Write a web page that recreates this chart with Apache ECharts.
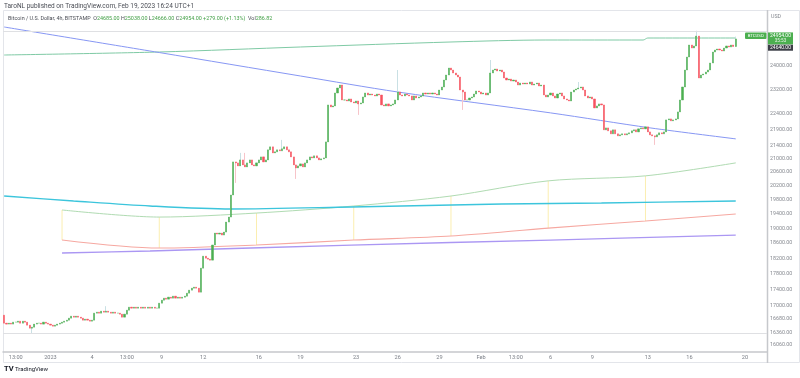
<!DOCTYPE html>
<html>
<head>
<meta charset="utf-8">
<script src="https://cdn.jsdelivr.net/npm/echarts@6.0.0/dist/echarts.min.js"></script>
<style>
  html, body { margin: 0; padding: 0; background: #fff; }
  #chart { width: 800px; height: 378px; }
</style>
</head>
<body>
<div id="chart"></div>
<script>
// 4h candles, first candle Dec 28 2022 17:00 (UTC+1)
const firstOpen = 16767;
const closes = [
  16575,16552,16575,16552,16599, 16599,16623,16575,16623,16599,
  16528,16456,16480,16552,16575, 16575,16552,16599,16575,16552,
  16528,16504,16528,16552,16575, 16599,16623,16647,16695,16743,
  16719,16743,16719,16695,16647, 16671,16647,16623,16647,16816,
  16840,16816,16864,16840,16864, 16840,16816,16840,16816,16816,
  16791,16719,16791,16888,16961, 16937,16961,16937,16961,16937,
  16961,16937,16961,16937,16961, 16937,16937,17059,17133,17183,
  17158,17207,17183,17232,17183, 17207,17183,17207,17232,17307,
  17382,17432,17457,17432,17332, 17941,18253,18201,18175,18149,
  18548,18870,18843,18870,18816, 18897,19171,19310,19933,20906,
  20876,20786,20966,20816,20756, 20876,20966,20816,20786,20876,
  20966,21057,20906,20966,21271, 21363,21179,21210,21271,21241,
  21302,21363,21271,21210,21057, 20816,20726,20786,20846,20756,
  20876,20966,21057,21027,21088, 21027,20966,20997,21027,21517,
  22692,22627,22660,23086,23252, 23352,22855,22855,22822,22888,
  22790,22757,22822,22725,22757, 22954,23086,23019,23052,23019,
  22987,23052,23019,22692,22660, 22725,22660,22692,22725,22855,
  23119,23019,22987,23052,23019, 22987,22855,22987,22920,22954,
  22987,23086,23052,23086,23052, 23086,23052,23019,23185,23286,
  23521,23691,23931,23862,23760, 23691,23623,23185,23119,22855,
  22855,22920,22954,23052,23152, 23119,23052,23086,23019,23086,
  23760,23862,23897,23828,23862, 23794,23589,23521,23555,23487,
  23521,23454,23352,23420,23386, 23420,23386,23454,23352,23386,
  23420,23319,23352,23019,22954, 23019,23086,22987,22920,23052,
  23086,22987,22888,22855,22822, 23119,23185,23219,23252,23286,
  23185,22987,22920,22954,22888, 22595,22660,22725,22692,21892,
  21955,21861,21767,21892,21767, 21704,21735,21767,21735,21767,
  21798,21861,21892,21829,21924, 21955,21924,21987,21829,21735,
  21704,21673,21735,21798,21767, 21829,22209,22241,22178,22209,
  22241,22466,22855,23286,23862, 24313,24737,24630,24702,25059,
  23589,23691,23726,23794,23862, 24104,24489,24559,24595,24559,
  24524,24630,24702,24666,24737, 24685,24954
];
// visible wick extremes [candle index, price]
const wickHigh = [[44,16985],[102,21179],[104,21179],[120,21579],[170,23862],[210,24208],[248,23454],[299,25250],[316,25038]];
const wickLow = [[12,16338],[100,20283],[126,20400],[153,22369],[198,22530],[281,21424],[316,24666]];

// overlay lines: knots at candle index
const blueIdx = [0, 67, 128, 170, 236, 279, 316];
const blueVal = [25386, 24470, 23657, 23119, 22434, 21955, 21610];
const topIdx = [0, 67, 128, 193, 234, 276, 278, 316];
const topVal = [24383, 24489, 24666, 24844, 24915, 24915, 24987, 24987];
const cyanIdx = [0, 30, 63, 98, 150, 215, 258, 316];
const cyanVal = [19904, 19762, 19620, 19535, 19592, 19677, 19705, 19762];
const weekIdx = [25, 67, 109, 151, 193, 235, 277, 316];
const upperVal = [19508, 19310, 19422, 19620, 19904, 20343, 20490, 20876];
const lowerVal = [18682, 18468, 18548, 18682, 18789, 19006, 19199, 19394];
const purpleIdx = [25, 63, 150, 236, 316];
const purpleVal = [18336, 18389, 18548, 18682, 18816];
const hLines = [25222, 16341];

const priceTicks = [24000, 23200, 22400, 21900, 21400, 21000, 20600, 20200, 19800, 19400,
  19000, 18600, 18200, 17800, 17400, 17000, 16680, 16360, 16060];
const timeTickIdx = [5, 20, 38, 53, 68, 86, 110, 128, 152, 170, 188, 206, 221, 236, 254, 278, 296, 320];
const timeTickText = ['13:00', '2023', '4', '13:00', '9', '12', '16', '19', '23', '26', '29', 'Feb', '13:00', '6', '9', '13', '16', '20'];

const lastClose = 24954;
const prevClose = 24640;

// category slots (candles + empty right margin)
const slotCount = 330;
const startTime = Date.UTC(2022, 11, 28, 16);
const categories = [];
for (let i = 0; i < slotCount; i++) {
  const d = new Date(startTime + i * 4 * 3600e3 + 3600e3);
  categories.push(d.toISOString().slice(0, 13).replace('T', ' ') + ':00');
}

const bodies = closes.map((c, i) => {
  const o = i === 0 ? firstOpen : closes[i - 1];
  return [o, c, Math.min(o, c), Math.max(o, c)];
});
const hiMap = Object.fromEntries(wickHigh);
const loMap = Object.fromEntries(wickLow);
const wicks = bodies.map((b, i) => [b[0], b[1], loMap[i] !== undefined ? loMap[i] : b[2], hiMap[i] !== undefined ? hiMap[i] : b[3]]);

const pairs = (idx, val) => idx.map((x, k) => [x, val[k]]);
const tickLabel = {};
timeTickIdx.forEach((x, k) => { tickLabel[x] = timeTickText[k]; });

const FONT = 'Roboto, "Noto Sans", sans-serif';
const UP = '#4caf50';
const DOWN = '#f7525f';

function lineSeries(data, color, width) {
  return {
    type: 'line',
    data: data,
    showSymbol: false,
    smooth: 0.3,
    silent: true,
    z: 1,
    lineStyle: { color: color, width: width },
  };
}

const chart = echarts.init(document.getElementById('chart'));
chart.setOption({
  animation: false,
  backgroundColor: '#ffffff',
  grid: { left: 3, right: 33, top: 10, bottom: 26, containLabel: false, outerBoundsMode: 'none' },
  xAxis: {
    type: 'category',
    data: categories,
    boundaryGap: true,
    axisLine: { show: true, lineStyle: { color: '#c6c8cc', width: 1.5 } },
    axisTick: { show: false },
    splitLine: { show: false },
    axisLabel: {
      interval: (i) => tickLabel[i] !== undefined,
      formatter: (v, i) => tickLabel[i] || '',
      fontSize: 5.6,
      color: '#7b7f87',
      fontFamily: FONT,
      margin: 3,
    },
  },
  yAxis: {
    type: 'log',
    logBase: 10,
    min: 15901,
    max: 26015,
    position: 'right',
    axisLine: { show: false },
    axisTick: { show: false },
    splitLine: { show: false },
    axisLabel: {
      customValues: priceTicks,
      interval: 0,
      hideOverlap: false,
      formatter: (v) => Math.round(v) + '.00',
      fontSize: 5.3,
      lineHeight: 6,
      color: '#85888f',
      fontFamily: FONT,
      margin: 3,
    },
  },
  series: [
    lineSeries(pairs(purpleIdx, purpleVal), '#ab97f3', 1.3),
    lineSeries(pairs(weekIdx, lowerVal), '#f6a8a1', 1.1),
    lineSeries(pairs(weekIdx, upperVal), '#b0dbb2', 1),
    lineSeries(pairs(cyanIdx, cyanVal), '#3cc5dc', 1.4),
    lineSeries(pairs(topIdx, topVal), '#7fcaa5', 1),
    lineSeries(pairs(blueIdx, blueVal), '#8797f4', 1),
    {
      type: 'custom',
      silent: true,
      z: 1,
      data: weekIdx.slice(0, -1).map((x, k) => [x, upperVal[k], lowerVal[k]]),
      encode: { x: 0, y: [1, 2] },
      renderItem: (params, api) => {
        const a = api.coord([api.value(0), api.value(1)]);
        const b = api.coord([api.value(0), api.value(2)]);
        return {
          type: 'line',
          shape: { x1: a[0], y1: a[1], x2: b[0], y2: b[1] },
          style: { stroke: '#fbeeb0', lineWidth: 1 },
        };
      },
    },
    {
      type: 'candlestick',
      data: wicks,
      barWidth: 0.2,
      silent: true,
      z: 2,
      itemStyle: { color: '#c9e0e4', color0: '#f7c4c9', borderColor: '#c9e0e4', borderColor0: '#f7c4c9', borderWidth: 1 },
    },
    {
      type: 'candlestick',
      data: bodies,
      barWidth: 1.6,
      silent: true,
      z: 3,
      itemStyle: { color: UP, color0: DOWN, borderColor: UP, borderColor0: DOWN, borderWidth: 0.5 },
      markLine: {
        silent: true,
        symbol: 'none',
        label: { show: false },
        lineStyle: { color: '#dfe0e3', type: 'solid', width: 1 },
        data: hLines.map((v) => ({ yAxis: v })),
      },
    },
  ],
});

// axis tags, frame and header placed after layout
const yLast = chart.convertToPixel({ yAxisIndex: 0 }, lastClose);
const yPrev = chart.convertToPixel({ yAxisIndex: 0 }, prevClose);
const greenTop = yLast - 6.5;

chart.setOption({
  graphic: [
    { type: 'rect', shape: { x: 3.5, y: 10.5, width: 796, height: 352 }, style: { fill: 'none', stroke: '#e3e5ea', lineWidth: 1 }, silent: true },
    { type: 'line', shape: { x1: 767.5, y1: 10, x2: 767.5, y2: 363 }, style: { stroke: '#c6c8cc', lineWidth: 1.5 }, silent: true },
    { type: 'text', x: 771, y: 14, style: { text: 'USD', fontSize: 5.3, fill: '#85888f', fontFamily: FONT } },
    {
      type: 'text', x: 4, y: 2.5,
      style: { text: 'TaroNL published on TradingView.com, Feb 19, 2023 16:24 UTC+1', fontSize: 6.5, fill: '#4a4d55', fontFamily: FONT },
    },
    {
      type: 'text', x: 8, y: 16,
      style: {
        text: '{n|Bitcoin / U.S. Dollar, 4h, BITSTAMP  }{n|O}{g|24685.00 }{n|H}{g|25038.00 }{n|L}{g|24666.00 }{n|C}{g|24954.00 }{g|+279.00 (+1.13%)  }{n|Vol}{g|286.82}',
        fontFamily: FONT,
        rich: {
          n: { fontSize: 5.4, fill: '#4a4d55', fontFamily: FONT },
          g: { fontSize: 5.4, fill: '#43a047', fontFamily: FONT },
        },
      },
    },
    { type: 'rect', shape: { x: 745, y: yLast - 6.5, width: 21.5, height: 6.5, r: 1 }, style: { fill: UP } },
    { type: 'text', x: 755.7, y: yLast - 3.2, style: { text: 'BTCUSD', fontSize: 4.3, fill: '#ffffff', fontFamily: FONT, align: 'center', verticalAlign: 'middle' } },
    { type: 'rect', shape: { x: 768, y: greenTop, width: 25, height: 12 }, style: { fill: UP } },
    { type: 'text', x: 780.5, y: greenTop + 3.3, style: { text: lastClose.toFixed(2), fontSize: 5, fill: '#ffffff', fontFamily: FONT, align: 'center', verticalAlign: 'middle' } },
    { type: 'text', x: 780.5, y: greenTop + 8.8, style: { text: '35:53', fontSize: 4.6, fill: '#e8f5e9', fontFamily: FONT, align: 'center', verticalAlign: 'middle' } },
    { type: 'rect', shape: { x: 768, y: Math.max(yPrev - 3, greenTop + 12), width: 25, height: 6 }, style: { fill: '#3c3f47' } },
    { type: 'text', x: 780.5, y: Math.max(yPrev - 3, greenTop + 12) + 3, style: { text: prevClose.toFixed(2), fontSize: 5, fill: '#ffffff', fontFamily: FONT, align: 'center', verticalAlign: 'middle' } },
    { type: 'text', x: 4, y: 365.5, style: { text: 'TV', fontSize: 7.5, fontWeight: 'bold', fill: '#131722', fontFamily: FONT } },
    { type: 'text', x: 15, y: 366.5, style: { text: 'TradingView', fontSize: 6, fill: '#131722', fontFamily: FONT } },
  ],
});
</script>
</body>
</html>
